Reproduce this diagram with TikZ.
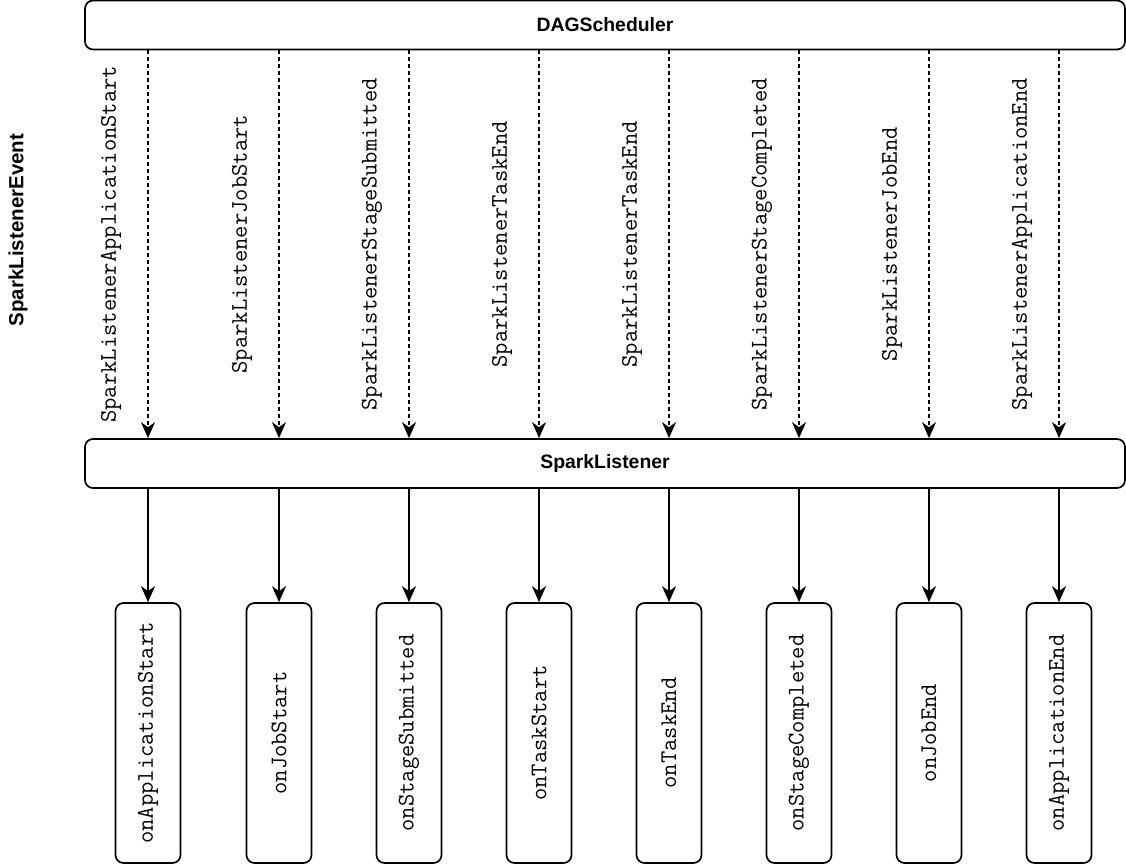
\documentclass[tikz,border=0pt]{standalone}
\usepackage{fontspec}
\setmainfont{Liberation Sans}
\usetikzlibrary{arrows.meta}
\begin{document}
\begin{tikzpicture}[x=1pt,y=-1pt,
  box/.style={draw, line width=1.7pt, rounded corners=8pt, fill=white, inner sep=0pt},
  wide/.style={box, minimum width=1040pt, minimum height=49pt,
    font=\fontsize{19.4}{22}\selectfont\bfseries},
  handler/.style={box, minimum width=65pt, minimum height=260pt},
  mono/.style={font=\fontsize{23.9}{26}\selectfont\ttfamily},
  tip/.style={-{Stealth[length=16pt,width=14pt,inset=5pt]}},
  event/.style={line width=1.8pt, dash pattern=on 4pt off 3pt, tip},
  call/.style={line width=1.8pt, tip},
]
\useasboundingbox (0,0) rectangle (1126,866);

% side caption
\node[rotate=90, font=\fontsize{20.5}{23}\selectfont\bfseries] (evt) at (18,230) {SparkListenerEvent};

% scheduler and listener bars
\node[wide] (dag) at (605,25) {DAGScheduler};
\node[wide] (lis) at (605,463.5) {SparkListener};

% one column per event: dashed event arrow, solid call arrow, handler box
\foreach \i/\cx/\ev/\cb in {
  1/148/SparkListenerApplicationStart/onApplicationStart,
  2/279/SparkListenerJobStart/onJobStart,
  3/409/SparkListenerStageSubmitted/onStageSubmitted,
  4/539/SparkListenerTaskEnd/onTaskStart,
  5/669/SparkListenerTaskEnd/onTaskEnd,
  6/799/SparkListenerStageCompleted/onStageCompleted,
  7/929/SparkListenerJobEnd/onJobEnd,
  8/1059/SparkListenerApplicationEnd/onApplicationEnd}{
  \node[handler, label={[mono, rotate=90]center:\cb}] (h\i) at (\cx,733) {};
  \draw[event] (dag.south -| h\i) -- node[midway, xshift=-37pt, rotate=90, mono] {\ev} (lis.north -| h\i);
  \draw[call] (lis.south -| h\i) -- (h\i.north);
}
\end{tikzpicture}
\end{document}
